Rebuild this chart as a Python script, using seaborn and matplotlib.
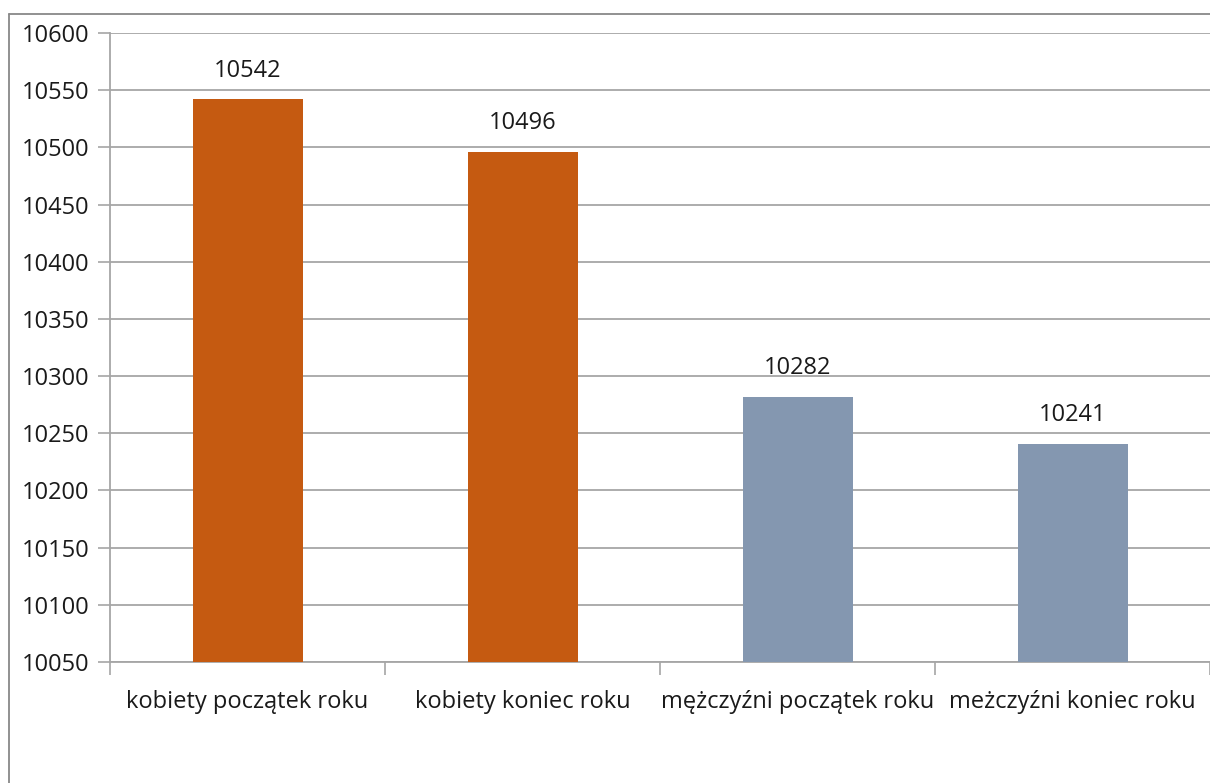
import matplotlib
matplotlib.use("Agg")
import matplotlib.pyplot as plt
import seaborn as sns
import pandas as pd
import numpy as np
from matplotlib.lines import Line2D

# dane
kategorie = ["kobiety początek roku", "kobiety koniec roku",
             "mężczyźni początek roku", "meżczyźni koniec roku"]
wartosci = [10542, 10496, 10282, 10241]
kolory = ["#C55A11", "#C55A11", "#8497B0", "#8497B0"]
y_ticks = list(range(10050, 10601, 50))

sns.set_style("white")
plt.rcParams["font.family"] = ["Open Sans", "DejaVu Sans"]

df = pd.DataFrame({"kat": kategorie, "val": wartosci})

fig = plt.figure(figsize=(12.1, 7.83), dpi=100)
ax = fig.add_axes([110 / 1210, 1 - 662 / 783, 1 - 110 / 1210, (662 - 33) / 783])

sns.barplot(data=df, x="kat", y="val", hue="kat", palette=kolory, width=0.4,
            legend=False, ax=ax, zorder=3, saturation=1, linewidth=0, edgecolor="none")

ax.set_ylim(10050, 10600)
ax.set_xlim(-0.5, 3.5)
ax.set_yticks(y_ticks)
ax.set_yticklabels([str(v) for v in y_ticks], fontsize=17, color="#1a1a1a")
ax.yaxis.grid(True, color="#A6A6A6", linewidth=1.3, zorder=0)
ax.set_axisbelow(True)

ax.set_xticks(np.arange(4))
ax.set_xticklabels(kategorie, fontsize=17, color="#1a1a1a")
ax.set_xticks(np.arange(-0.5, 3.6, 1), minor=True)
ax.tick_params(axis="x", which="major", bottom=True, length=0, pad=20)
ax.tick_params(axis="x", which="minor", bottom=True, length=9, width=1.2,
               color="#A6A6A6", direction="out")
ax.tick_params(axis="y", left=True, length=9, width=1.2, color="#A6A6A6",
               direction="out", pad=6)

ax.set_xlabel("")
ax.set_ylabel("")
for s in ["top", "right"]:
    ax.spines[s].set_visible(False)
for s in ["left", "bottom"]:
    ax.spines[s].set_color("#A6A6A6")
    ax.spines[s].set_linewidth(1.3)

for cont in ax.containers:
    ax.bar_label(cont, labels=[f"{v:.0f}" for v in cont.datavalues],
                 padding=12, fontsize=17, color="#1a1a1a")

# ramka wykresu (lewa i górna krawędź)
fig.add_artist(Line2D([9 / 1210, 9 / 1210], [0, 1 - 14 / 783], transform=fig.transFigure,
                      color="#888888", linewidth=1.3))
fig.add_artist(Line2D([9 / 1210, 1], [1 - 14 / 783, 1 - 14 / 783], transform=fig.transFigure,
                      color="#888888", linewidth=1.3))

fig.savefig("out.png", dpi=100, facecolor="white")
